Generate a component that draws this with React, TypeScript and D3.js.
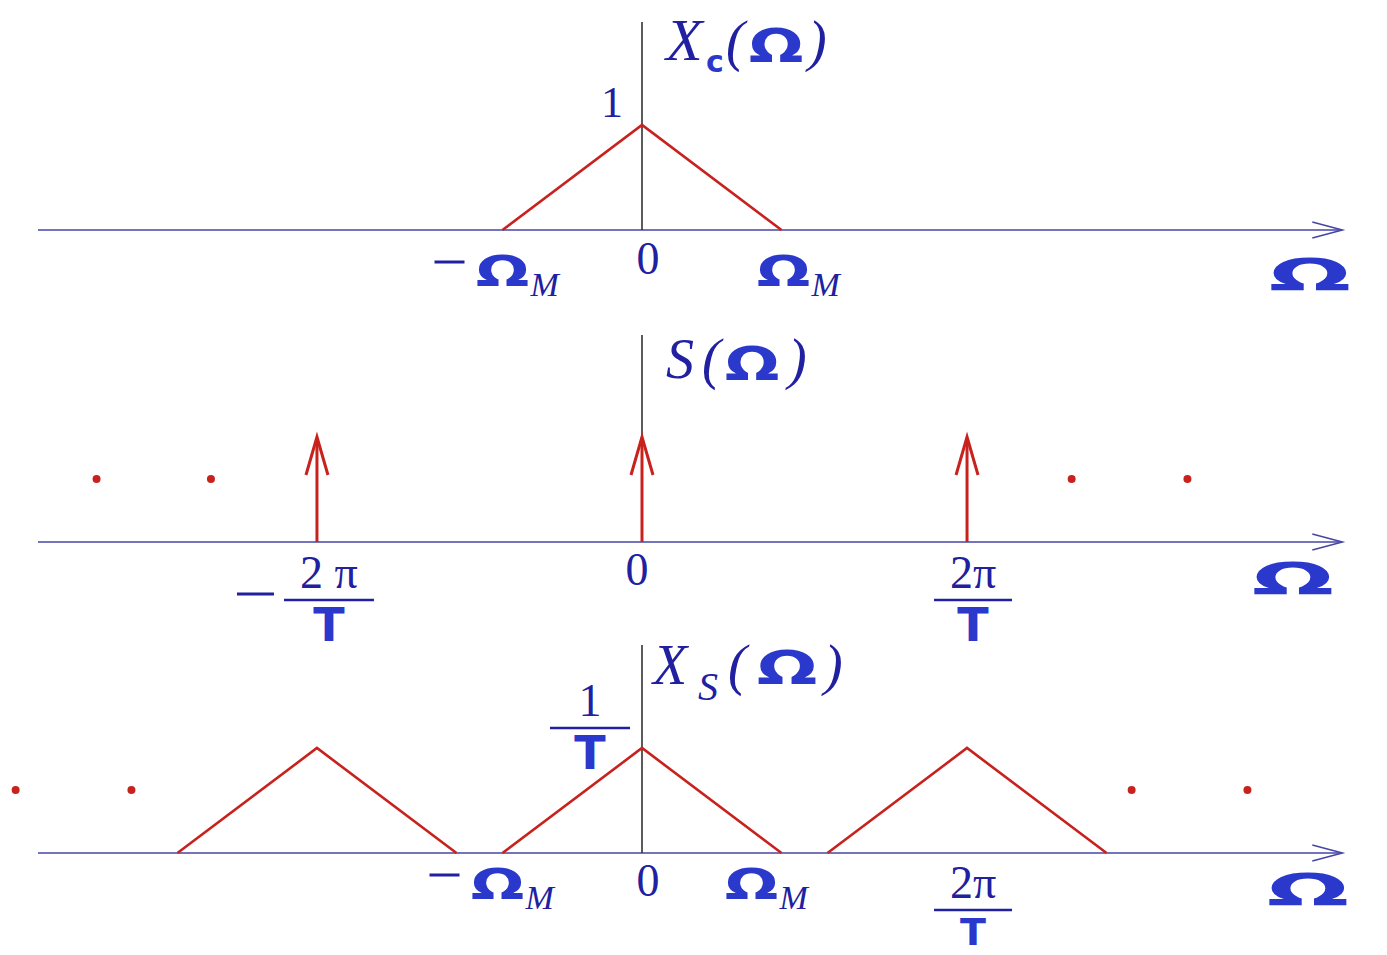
import React from 'react';
import * as d3 from 'd3';

const W = 1387;
const H = 955;

// Frequencies are in units of the band limit Ω_M.
const bandLimit = 1;
const samplingFreq = 2.33; // 2π/T
const axisRange = [-4.33, 5.02];

// One period of the band-limited spectrum X_c(Ω): (Ω, amplitude)
const spectrumOmega = [-1, 0, 1];
const spectrumAmp = [0, 1, 0];

// Impulse train S(Ω) and the replicas of X_s(Ω)
const impulseOrders = [-1, 0, 1];
const replicaOrders = [-1, 0, 1];
const impulseAmp = 1;

// Ellipsis dots (Ω positions, height)
const dotsS = [-3.91, -3.09, 3.08, 3.91];
const dotsXs = [-4.49, -3.66, 3.51, 4.34];
const dotHeight = 0.6;

// Panel geometry
const baselines = [230, 542, 853];
const axisTops = [22, 335, 645];
const ampPx = 105;

const TEXT = '#2020a0';
const HAND = '#2a38cc';
const AXIS = '#4646a6';
const RED = '#c8221e';
const SERIF = '"Liberation Serif", "DejaVu Serif", serif';
const SANS = '"DejaVu Sans", sans-serif';

const x = d3.scaleLinear().domain([0, 1]).range([642, 781.5]);

function yScale(i: number) {
  return d3.scaleLinear().domain([0, 1]).range([baselines[i], baselines[i] - ampPx]);
}

function Axis({ i }: { i: number }) {
  const y0 = baselines[i];
  const x0 = x(axisRange[0]);
  const x1 = x(axisRange[1]);
  return (
    <g>
      <line x1={x0} x2={x1} y1={y0} y2={y0} stroke={AXIS} strokeWidth={1.6} />
      <path d={`M${x1 - 30},${y0 - 8} L${x1},${y0} L${x1 - 30},${y0 + 8}`} fill="none" stroke={AXIS} strokeWidth={1.6} />
      <line x1={x(0)} x2={x(0)} y1={axisTops[i]} y2={y0} stroke="#333" strokeWidth={1.6} />
    </g>
  );
}

// Hand-drawn style Ω
function Om({ cx, y, size = 46, sx = 1.5 }: { cx: number; y: number; size?: number; sx?: number }) {
  return (
    <text transform={`translate(${cx},${y}) scale(${sx},1)`} textAnchor="middle" fontFamily={SANS} fontWeight="bold" fontSize={size} fill={HAND}>Ω</text>
  );
}

function OmegaM({ cx, y, neg }: { cx: number; y: number; neg?: boolean }) {
  return (
    <g>
      {neg && <line x1={cx - 68} x2={cx - 38} y1={y - 24} y2={y - 24} stroke={TEXT} strokeWidth={3} />}
      <Om cx={cx} y={y} size={42} sx={1.5} />
      <text x={cx + 28} y={y + 10} fontFamily={SERIF} fontStyle="italic" fontSize={34} fill={TEXT}>M</text>
    </g>
  );
}

function Frac({ cx, y, num, w = 78, neg, tSize = 46 }: { cx: number; y: number; num: string; w?: number; neg?: boolean; tSize?: number }) {
  return (
    <g>
      {neg && <line x1={cx - 92} x2={cx - 55} y1={y - 6} y2={y - 6} stroke={TEXT} strokeWidth={3} />}
      <text x={cx} y={y - 12} textAnchor="middle" fontFamily={SERIF} fontSize={46} fill={TEXT}>{num}</text>
      <line x1={cx - w / 2} x2={cx + w / 2} y1={y} y2={y} stroke={TEXT} strokeWidth={2.5} />
      <text x={cx} y={y + 6 + tSize * 0.76} textAnchor="middle" fontFamily={SANS} fontWeight="bold" fontSize={tSize} fill={HAND}>T</text>
    </g>
  );
}

export default function App() {
  const y1 = yScale(0);
  const y2 = yScale(1);
  const y3 = yScale(2);
  const line = (ys: d3.ScaleLinear<number, number>, shift: number) =>
    d3.line<number>().x((_, k) => x(spectrumOmega[k] + shift)).y((_, k) => ys(spectrumAmp[k]))(spectrumAmp) || '';

  return (
    <svg width={W} height={H} style={{ position: 'absolute', left: 0, top: 0, background: '#fff' }}>
      {/* Panel 1: X_c(Ω) */}
      <Axis i={0} />
      <path d={line(y1, 0)} fill="none" stroke={RED} strokeWidth={2.6} />
      <text x={612} y={117} textAnchor="middle" fontFamily={SERIF} fontSize={44} fill={TEXT}>1</text>
      <g>
        <text x={666} y={60} fontFamily={SERIF} fontStyle="italic" fontSize={60} fill={TEXT}>X</text>
        <text x={706} y={72} fontFamily={SANS} fontWeight="bold" fontSize={30} fill={HAND}>c</text>
        <text x={726} y={60} fontFamily={SERIF} fontStyle="italic" fontSize={56} fill={TEXT}>(</text>
        <Om cx={776} y={62} size={46} sx={1.4} />
        <text x={808} y={60} fontFamily={SERIF} fontStyle="italic" fontSize={56} fill={TEXT}>)</text>
      </g>
      <OmegaM cx={x(-bandLimit)} y={286} neg />
      <text x={648} y={274} textAnchor="middle" fontFamily={SERIF} fontSize={46} fill={TEXT}>0</text>
      <OmegaM cx={x(bandLimit) + 2} y={286} />
      <Om cx={1310} y={291} size={44} sx={2.2} />

      {/* Panel 2: S(Ω) */}
      <Axis i={1} />
      {impulseOrders.map(k => {
        const px = x(k * samplingFreq);
        const top = y2(impulseAmp);
        return (
          <g key={k}>
            <line x1={px} x2={px} y1={baselines[1]} y2={top + 2} stroke={RED} strokeWidth={3} />
            <path d={`M${px - 11},${top + 38} L${px},${top} L${px + 11},${top + 38}`} fill="none" stroke={RED} strokeWidth={3} />
          </g>
        );
      })}
      {dotsS.map(d => (
        <circle key={d} cx={x(d)} cy={y2(dotHeight)} r={4} fill={RED} />
      ))}
      <g>
        <text x={666} y={378} fontFamily={SERIF} fontStyle="italic" fontSize={56} fill={TEXT}>S</text>
        <text x={702} y={378} fontFamily={SERIF} fontStyle="italic" fontSize={56} fill={TEXT}>(</text>
        <Om cx={752} y={380} size={46} sx={1.4} />
        <text x={788} y={378} fontFamily={SERIF} fontStyle="italic" fontSize={56} fill={TEXT}>)</text>
      </g>
      <Frac cx={x(-samplingFreq) + 12} y={600} num="2 π" w={90} neg />
      <text x={637} y={585} textAnchor="middle" fontFamily={SERIF} fontSize={46} fill={TEXT}>0</text>
      <Frac cx={x(samplingFreq) + 6} y={600} num="2π" />
      <Om cx={1293} y={595} size={44} sx={2.2} />

      {/* Panel 3: X_s(Ω) */}
      <Axis i={2} />
      {replicaOrders.map(k => (
        <path key={k} d={line(y3, k * samplingFreq)} fill="none" stroke={RED} strokeWidth={2.6} />
      ))}
      {dotsXs.map(d => (
        <circle key={d} cx={x(d)} cy={y3(dotHeight)} r={4} fill={RED} />
      ))}
      <g>
        <text x={653} y={684} fontFamily={SERIF} fontStyle="italic" fontSize={56} fill={TEXT}>X</text>
        <text x={698} y={700} fontFamily={SERIF} fontStyle="italic" fontSize={40} fill={TEXT}>S</text>
        <text x={728} y={684} fontFamily={SERIF} fontStyle="italic" fontSize={56} fill={TEXT}>(</text>
        <Om cx={787} y={684} size={46} sx={1.55} />
        <text x={824} y={684} fontFamily={SERIF} fontStyle="italic" fontSize={56} fill={TEXT}>)</text>
      </g>
      <Frac cx={590} y={728} num="1" w={80} />
      <OmegaM cx={x(-bandLimit) - 5} y={899} neg />
      <text x={648} y={896} textAnchor="middle" fontFamily={SERIF} fontSize={46} fill={TEXT}>0</text>
      <OmegaM cx={x(bandLimit) - 30} y={899} />
      <Frac cx={x(samplingFreq) + 6} y={910} num="2π" tSize={38} />
      <Om cx={1308} y={906} size={44} sx={2.2} />
    </svg>
  );
}
